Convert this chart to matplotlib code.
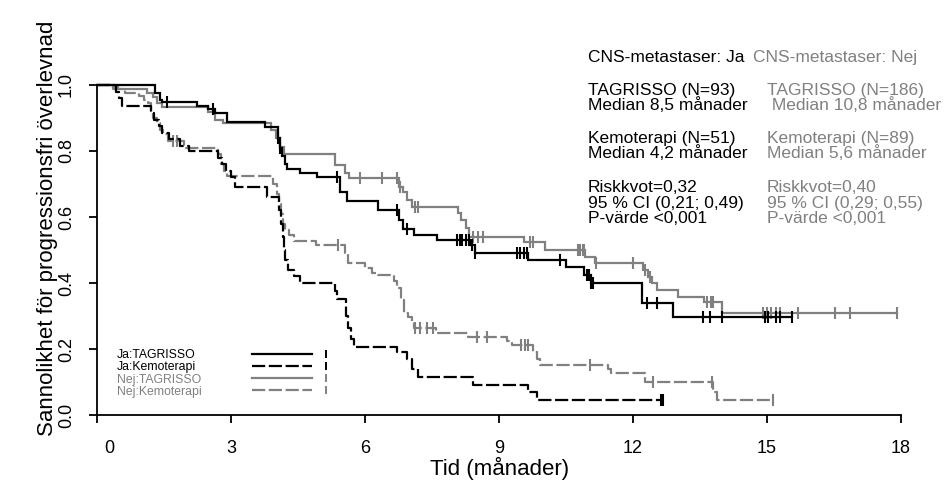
import numpy as np
import matplotlib
matplotlib.use('Agg')
import matplotlib.pyplot as plt
from matplotlib.lines import Line2D
from matplotlib.transforms import ScaledTranslation

plt.rcParams['font.family'] = ['Liberation Sans', 'DejaVu Sans']
plt.rcParams['lines.scale_dashes'] = False

# ---------------- data ----------------
ja_tag_t = [1.30, 1.41, 1.45, 2.24, 2.48, 2.64, 2.91, 3.76, 4.05, 4.10, 4.15, 4.22, 4.26, 4.54, 4.92,
            5.45, 5.60, 6.29, 6.75, 6.85, 7.10, 7.61, 8.35, 8.46, 9.65, 10.50, 10.90, 11.05, 12.20, 12.90]
ja_tag_s = [0.976, 0.955, 0.948, 0.936, 0.927, 0.915, 0.888, 0.873, 0.84, 0.81, 0.785, 0.76, 0.745, 0.733, 0.72,
            0.676, 0.648, 0.62, 0.59, 0.565, 0.545, 0.53, 0.515, 0.49, 0.47, 0.45, 0.424, 0.40, 0.34, 0.297]
ja_tag_end = 15.56
ja_tag_cens = [1.57, 2.60, 4.05, 4.10, 5.37, 6.72, 6.94, 8.05, 8.12, 8.18, 8.25, 8.32, 8.40, 8.46,
               9.40, 9.47, 9.55, 9.63, 10.37, 10.97, 11.02, 11.07, 11.10, 12.31, 12.54, 13.57, 13.73,
               14.00, 14.95, 15.02, 15.20, 15.29, 15.56]

ja_kem_t = [0.42, 0.50, 0.55, 1.20, 1.28, 1.38, 1.45, 1.62, 1.85, 2.05, 2.70, 2.80, 2.88, 3.00, 3.10,
            3.80, 4.08, 4.12, 4.16, 4.18, 4.20, 4.28, 4.40, 4.55, 5.32, 5.38, 5.57, 5.62, 5.68, 5.75,
            6.72, 6.95, 7.05, 7.18, 8.42, 9.65, 9.85]
ja_kem_s = [0.98, 0.96, 0.935, 0.915, 0.895, 0.875, 0.855, 0.835, 0.815, 0.80, 0.78, 0.76, 0.74, 0.72, 0.69,
            0.66, 0.62, 0.58, 0.54, 0.50, 0.47, 0.44, 0.42, 0.40, 0.375, 0.352, 0.30, 0.264, 0.23, 0.206,
            0.19, 0.17, 0.14, 0.115, 0.09, 0.07, 0.045]
ja_kem_end = 12.67
ja_kem_cens = [12.63, 12.67]

nej_tag_t = [0.36, 0.47, 1.12, 1.25, 1.35, 1.45, 2.48, 2.65, 2.83, 3.90, 4.00, 4.10, 4.18, 5.33, 5.55,
             5.65, 6.75, 6.85, 6.95, 7.05, 8.08, 8.15, 8.25, 8.33, 9.55, 10.03, 10.92, 11.15, 12.22,
             12.33, 12.42, 12.54, 13.00, 13.60, 13.99]
nej_tag_s = [0.994, 0.989, 0.975, 0.964, 0.945, 0.933, 0.918, 0.894, 0.885, 0.864, 0.84, 0.812, 0.79, 0.758,
             0.733, 0.718, 0.69, 0.676, 0.65, 0.63, 0.612, 0.59, 0.567, 0.54, 0.524, 0.50, 0.48, 0.46,
             0.44, 0.418, 0.40, 0.379, 0.357, 0.342, 0.31]
nej_tag_end = 17.91
nej_tag_cens = [5.89, 6.38, 6.72, 6.78, 7.12, 7.19, 8.42, 8.53, 8.64, 9.69, 9.76, 10.77, 10.82, 10.87,
                10.90, 11.17, 12.00, 12.27, 12.38, 13.65, 13.75, 13.79, 14.90, 15.00, 15.10, 15.20,
                15.30, 15.69, 16.52, 16.86, 17.91]

nej_kem_t = [0.35, 0.62, 0.95, 1.05, 1.15, 1.22, 1.26, 1.35, 1.42, 1.48, 1.60, 1.95, 2.72, 2.78, 2.85,
             2.92, 3.95, 4.02, 4.07, 4.12, 4.16, 4.20, 4.30, 4.42, 4.90, 5.55, 5.62, 6.00, 6.15, 6.30,
             6.65, 6.72, 6.80, 6.88, 6.96, 7.05, 7.10, 7.60, 8.30, 9.18, 9.30, 9.75, 9.85, 9.92, 11.45,
             11.50, 12.27, 13.80, 13.88]
nej_kem_s = [0.989, 0.977, 0.966, 0.955, 0.944, 0.92, 0.90, 0.885, 0.865, 0.85, 0.83, 0.81, 0.79, 0.76,
             0.74, 0.724, 0.70, 0.67, 0.64, 0.61, 0.58, 0.56, 0.545, 0.527, 0.515, 0.49, 0.46, 0.445,
             0.43, 0.424, 0.405, 0.385, 0.35, 0.31, 0.297, 0.282, 0.264, 0.25, 0.236, 0.225, 0.212,
             0.19, 0.17, 0.152, 0.14, 0.127, 0.10, 0.07, 0.045]
nej_kem_end = 15.13
nej_kem_cens = [1.70, 1.80, 5.39, 7.12, 7.23, 7.39, 7.52, 8.50, 8.73, 9.50, 9.58, 9.65, 11.04, 12.45,
                13.77, 15.13]

x_ticks = [0, 3, 6, 9, 12, 15, 18]
y_ticks = [0.0, 0.2, 0.4, 0.6, 0.8, 1.0]
y_tick_labels = ['0.0', '0.2', '0.4', '0.6', '0.8', '1.0']

legend_labels = ['Ja:TAGRISSO', 'Ja:Kemoterapi', 'Nej:TAGRISSO', 'Nej:Kemoterapi']

left_text = ['CNS-metastaser: Ja', 'TAGRISSO (N=93)', 'Median 8,5 månader', 'Kemoterapi (N=51)',
             'Median 4,2 månader', 'Riskkvot=0,32', '95 % CI (0,21; 0,49)', 'P-värde <0,001']
right_text = ['CNS-metastaser: Nej', 'TAGRISSO (N=186)', ' Median 10,8 månader', 'Kemoterapi (N=89)',
              'Median 5,6 månader', 'Riskkvot=0,40', '95 % CI (0,29; 0,55)', 'P-värde <0,001']

# ---------------- figure ----------------
W, H = 952, 500
BLACK = '#000000'
GRAY = '#808080'
DASH = (9.5, 2.6)

fig = plt.figure(figsize=(W / 100, H / 100), dpi=100)
ax = fig.add_axes([97 / W, 85 / H, (901 - 97) / W, 330 / H])


def fx(x):
    return x / W


def fy(y):
    return 1 - y / H


def km(t, s, end, cens, color, dashed):
    times = np.array([0.0] + list(t) + [end])
    surv = np.array([1.0] + list(s) + [s[-1]])
    kw = dict(color=color, lw=1.6, clip_on=False, solid_joinstyle='miter')
    line, = ax.step(times, surv, where='post', **kw)
    if dashed:
        line.set_dashes(DASH)
    ev_t = np.array([0.0] + list(t))
    ev_s = np.array([1.0] + list(s))
    idx = np.searchsorted(ev_t, np.array(cens), side='right') - 1
    ax.plot(cens, ev_s[idx], linestyle='none', marker='|', markersize=8.5,
            markeredgewidth=1.5, color=color, clip_on=False)


km(nej_tag_t, nej_tag_s, nej_tag_end, nej_tag_cens, GRAY, False)
km(nej_kem_t, nej_kem_s, nej_kem_end, nej_kem_cens, GRAY, True)
km(ja_tag_t, ja_tag_s, ja_tag_end, ja_tag_cens, BLACK, False)
km(ja_kem_t, ja_kem_s, ja_kem_end, ja_kem_cens, BLACK, True)

ax.set_xlim(0, 18)
ax.set_ylim(0, 1)
for sp in ['top', 'right']:
    ax.spines[sp].set_visible(False)
for sp in ['left', 'bottom']:
    ax.spines[sp].set_linewidth(1.3)
ax.set_xticks(x_ticks)
ax.set_xticklabels([str(v) for v in x_ticks])
ax.set_yticks(y_ticks)
ax.set_yticklabels(y_tick_labels, rotation=90, va='center')
ax.tick_params(axis='both', direction='out', length=6, width=1.3, labelsize=13)
ax.tick_params(axis='x', pad=12)
ax.tick_params(axis='y', pad=10)
xlabs = ax.get_xticklabels()
xlabs[0].set_transform(xlabs[0].get_transform() + ScaledTranslation(12 / 100, 0, fig.dpi_scale_trans))

fig.text(fx(500), fy(468), 'Tid (månader)', ha='center', va='center', fontsize=16)
fig.text(fx(48), fy(228), 'Sannolikhet för progressionsfri överlevnad', rotation=90,
         ha='center', va='center', fontsize=16)

# text block
baselines = [62, 95, 110, 143, 158, 192, 208, 223]
right_x = [753, 767, 767, 767, 767, 767, 767, 767]
for i in range(len(left_text)):
    fig.text(fx(588), fy(baselines[i]), left_text[i], ha='left', va='baseline',
             fontsize=12.5, color=BLACK)
    fig.text(fx(right_x[i]), fy(baselines[i]), right_text[i], ha='left', va='baseline',
             fontsize=12.5, color=GRAY)

# legend
text_rows = [355, 367, 380, 392]
line_rows = [354, 366, 378, 390]
colors = [BLACK, BLACK, GRAY, GRAY]
dashed = [False, True, False, True]
for i, lab in enumerate(legend_labels):
    fig.text(fx(117), fy(text_rows[i]), lab, ha='left', va='center', fontsize=8.8,
             color=colors[i])
    ln = Line2D([fx(252), fx(312)], [fy(line_rows[i]), fy(line_rows[i])],
                transform=fig.transFigure, color=colors[i], lw=1.6)
    if dashed[i]:
        ln.set_dashes(DASH)
    fig.add_artist(ln)
    mk = Line2D([fx(326)], [fy(line_rows[i])], transform=fig.transFigure, color=colors[i],
                marker='|', markersize=6, markeredgewidth=1.4, linestyle='none')
    fig.add_artist(mk)

fig.savefig('out.png', dpi=100)
